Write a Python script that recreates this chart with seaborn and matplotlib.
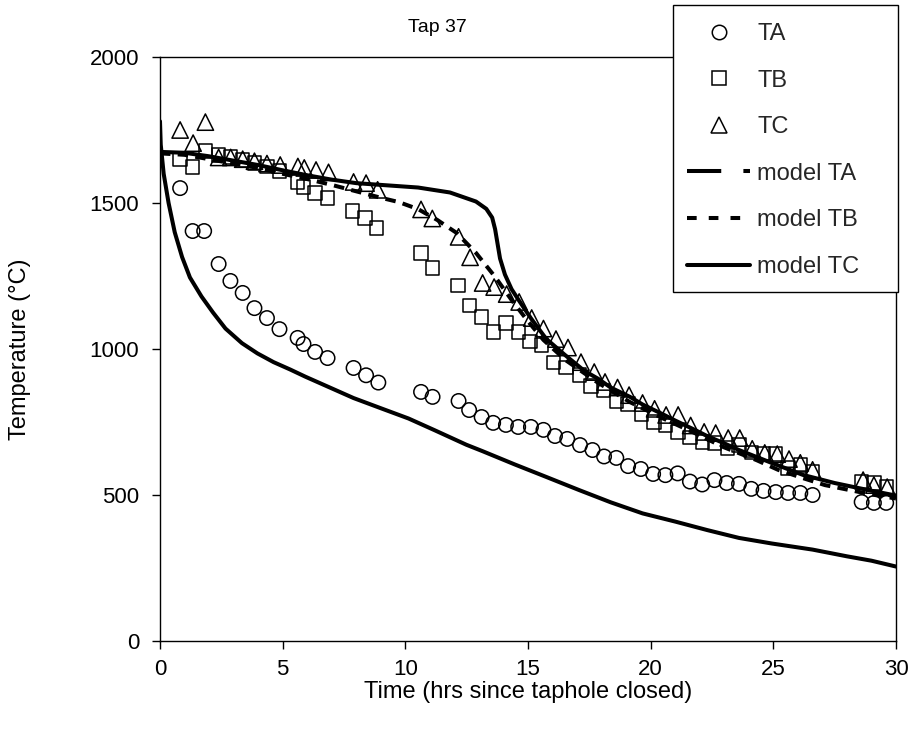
import matplotlib
matplotlib.use("Agg")
import matplotlib.pyplot as plt
from matplotlib.lines import Line2D
from matplotlib.patches import Rectangle
import seaborn as sns

# ---------------- data ----------------
ta_time = [0.82, 1.33, 1.8, 2.39, 2.87, 3.37, 3.85, 4.36, 4.87, 5.61, 5.85, 6.32, 6.83,
           7.89, 8.4, 8.9, 10.64, 11.11, 12.17, 12.6, 13.11, 13.58, 14.1, 14.6, 15.12,
           15.63, 16.1, 16.6, 17.12, 17.63, 18.1, 18.6, 19.08, 19.6, 20.1, 20.6, 21.1,
           21.6, 22.1, 22.6, 23.1, 23.6, 24.1, 24.6, 25.1, 25.6, 26.1, 26.6, 28.6, 29.1, 29.6]
ta_temp = [1551, 1404, 1404, 1291, 1233, 1192, 1140, 1106, 1068, 1038, 1017, 990, 969,
           935, 910, 885, 853, 836, 822, 791, 767, 747, 740, 733, 733,
           723, 702, 692, 671, 654, 632, 627, 599, 589, 572, 568, 574,
           546, 536, 551, 541, 538, 521, 514, 510, 507, 507, 500, 476, 473, 473]

tb_time = [0.82, 1.33, 1.85, 2.39, 2.87, 3.37, 3.85, 4.36, 4.87, 5.6, 5.85, 6.32, 6.83,
           7.85, 8.36, 8.83, 10.64, 11.11, 12.15, 12.62, 13.1, 13.58, 14.1, 14.6, 15.08,
           15.55, 16.05, 16.55, 17.1, 17.57, 18.08, 18.6, 19.08, 19.63, 20.14, 20.6, 21.12,
           21.6, 22.1, 22.6, 23.14, 23.6, 24.12, 24.6, 25.1, 25.6, 26.1, 26.6, 28.6, 29.1, 29.6]
tb_temp = [1650, 1623, 1678, 1664, 1657, 1647, 1637, 1625, 1610, 1572, 1555, 1534, 1517,
           1473, 1449, 1414, 1329, 1277, 1217, 1149, 1110, 1058, 1089, 1058, 1026,
           1014, 954, 937, 911, 873, 858, 822, 812, 775, 750, 737, 716,
           697, 682, 678, 661, 671, 646, 642, 640, 592, 603, 579, 545, 541, 527]

tc_time = [0.82, 1.35, 1.85, 2.39, 2.88, 3.37, 3.85, 4.36, 4.9, 5.62, 5.88, 6.36, 6.87,
           7.89, 8.4, 8.87, 10.64, 11.1, 12.17, 12.64, 13.15, 13.62, 14.13, 14.64, 15.15,
           15.63, 16.14, 16.63, 17.16, 17.7, 18.14, 18.65, 19.12, 19.67, 20.16, 20.63, 21.12,
           21.63, 22.18, 22.65, 23.16, 23.63, 24.14, 24.65, 25.16, 25.64, 26.1, 26.6, 28.66, 29.1, 29.64]
tc_temp = [1750, 1705, 1777, 1656, 1656, 1650, 1643, 1635, 1630, 1625, 1620, 1613, 1605,
           1572, 1568, 1545, 1478, 1447, 1384, 1314, 1226, 1212, 1188, 1161, 1106,
           1070, 1034, 1005, 955, 921, 887, 868, 842, 815, 795, 774, 774,
           738, 716, 712, 695, 695, 658, 644, 640, 623, 610, 586, 551, 534, 527]

model_ta_time = [0, 0.03, 0.15, 0.35, 0.6, 0.9, 1.22, 1.69, 2.16, 2.67, 3.34, 3.97, 4.63,
                 5.3, 5.93, 6.87, 7.89, 9.07, 10.13, 11.19, 12.49, 13.15, 14.45, 15.74,
                 17.08, 18.37, 19.67, 21.0, 22.3, 23.6, 24.93, 26.6, 28.0, 29.0, 30.0]
model_ta_temp = [1780, 1700, 1600, 1500, 1400, 1315, 1245, 1180, 1125, 1070, 1020, 985, 955,
                 930, 905, 870, 832, 795, 762, 722, 672, 650, 605, 562,
                 517, 475, 437, 409, 380, 353, 334, 313, 290, 275, 255]

model_tb_time = [0, 1, 2, 3, 4, 5, 6, 7, 8, 9, 9.74, 10.52, 11.3, 12.1, 12.88, 13.66, 14.33,
                 14.96, 15.63, 16.53, 17.86, 19.16, 20.46, 21.8, 22.97, 24.3, 25.2, 26.2,
                 27.1, 28.1, 29.0, 30.0]
model_tb_temp = [1670, 1665, 1650, 1635, 1620, 1600, 1582, 1562, 1540, 1518, 1503, 1479, 1442,
                 1397, 1329, 1247, 1168, 1099, 1031, 962, 884, 818, 764, 712, 664, 620, 586,
                 558, 534, 517, 502, 488]

model_tc_time = [0, 1, 2, 3, 4, 5, 6, 7, 8, 9, 10.52, 11.82, 12.88, 13.3, 13.54, 13.66, 13.74,
                 13.86, 14.06, 14.33, 14.6, 15.12, 15.74, 16.5, 17.3, 17.86, 18.37, 19.16,
                 19.67, 20.46, 21.0, 21.8, 22.3, 22.97, 23.6, 24.93, 26.2, 27.5, 28.86, 30.0]
model_tc_temp = [1675, 1672, 1660, 1645, 1630, 1612, 1595, 1580, 1568, 1562, 1553, 1536, 1505,
                 1480, 1450, 1410, 1370, 1310, 1255, 1205, 1170, 1105, 1035, 980, 925, 898,
                 868, 836, 810, 778, 755, 723, 702, 678, 654, 610, 569, 541, 517, 498]

x_ticks = [0, 5, 10, 15, 20, 25, 30]
y_ticks = [0, 500, 1000, 1500, 2000]
legend_labels = ["TA", "TB", "TC", "model TA", "model TB", "model TC"]

# ---------------- figure ----------------
sns.set_theme(style="white")
plt.rcParams["font.family"] = ["Liberation Sans", "DejaVu Sans"]
plt.rcParams["axes.edgecolor"] = "black"

W, H = 913, 731
fig = plt.figure(figsize=(W / 100, H / 100), dpi=100)
fig.patch.set_facecolor("white")
ax = fig.add_axes([160 / W, 1 - 641 / H, (896 - 160) / W, (641 - 57) / H])
ax.set_facecolor("white")

lw_model = 2.9
sns.lineplot(x=model_ta_time, y=model_ta_temp, color="black", lw=lw_model,
             estimator=None, sort=False, ax=ax)
sns.lineplot(x=model_tb_time, y=model_tb_temp, color="black", lw=lw_model,
             estimator=None, sort=False, ax=ax, dashes=False, linestyle=(0, (2.6, 1.8)))
sns.lineplot(x=model_tc_time, y=model_tc_temp, color="black", lw=lw_model,
             estimator=None, sort=False, ax=ax)

sns.scatterplot(x=ta_time, y=ta_temp, marker="o", s=108, facecolor="none",
                edgecolor="black", linewidth=1.1, ax=ax, zorder=3)
sns.scatterplot(x=tb_time, y=tb_temp, marker="s", s=92, facecolor="none",
                edgecolor="black", linewidth=1.1, ax=ax, zorder=3)
sns.scatterplot(x=tc_time, y=tc_temp, marker="^", s=138, facecolor="none",
                edgecolor="black", linewidth=1.1, ax=ax, zorder=3)

ax.set_xlim(0, 30)
ax.set_ylim(0, 2000)
ax.set_xticks(x_ticks)
ax.set_yticks(y_ticks)
ax.set_xticklabels([str(v) for v in x_ticks])
ax.set_yticklabels([str(v) for v in y_ticks])
ax.grid(False)
for sp in ax.spines.values():
    sp.set_visible(True)
    sp.set_color("black")
    sp.set_linewidth(1.0)
ax.tick_params(axis="both", which="major", direction="out", length=6, width=1,
               color="black", labelsize=16, labelcolor="black",
               bottom=True, left=True, top=False, right=False)
ax.tick_params(axis="y", pad=9)
ax.tick_params(axis="x", pad=7)

ax.set_xlabel("Time (hrs since taphole closed)", fontsize=17, color="black")
ax.set_ylabel("Temperature (°C)", fontsize=17, color="black")
ax.xaxis.set_label_coords(528 / W, 1 - 692 / H, transform=fig.transFigure)
ax.yaxis.set_label_coords(20 / W, 1 - 349 / H, transform=fig.transFigure)
ax.xaxis.label.set_va("center")
ax.yaxis.label.set_va("center")

fig.text(437 / W, 1 - 27 / H, "Tap 37", ha="center", va="center", fontsize=14, color="black")

# legend box
box = Rectangle((673 / W, 1 - 292 / H), (898 - 673) / W, (292 - 5) / H,
                transform=fig.transFigure, facecolor="white", edgecolor="black",
                linewidth=1.0, zorder=2)
fig.add_artist(box)

handles = [
    Line2D([], [], ls="none", marker="o", ms=10.4, mfc="none", mec="black", mew=1.1),
    Line2D([], [], ls="none", marker="s", ms=9.6, mfc="none", mec="black", mew=1.1),
    Line2D([], [], ls="none", marker="^", ms=11.7, mfc="none", mec="black", mew=1.1),
    Line2D([], [], color="black", lw=lw_model, dashes=(8.5, 5.5, 2.5, 5.5)),
    Line2D([], [], color="black", lw=lw_model, dashes=(2.4, 3.0)),
    Line2D([], [], color="black", lw=lw_model),
]
leg = fig.legend(handles, legend_labels, loc="upper left",
                 bbox_to_anchor=(687 / W, 1 - 23 / H), bbox_transform=fig.transFigure,
                 frameon=False, fontsize=17, handlelength=2.67, handletextpad=0.3,
                 labelspacing=1.04, borderpad=0, borderaxespad=0)
leg.set_zorder(3)

fig.savefig("out.png", dpi=100, facecolor="white")
